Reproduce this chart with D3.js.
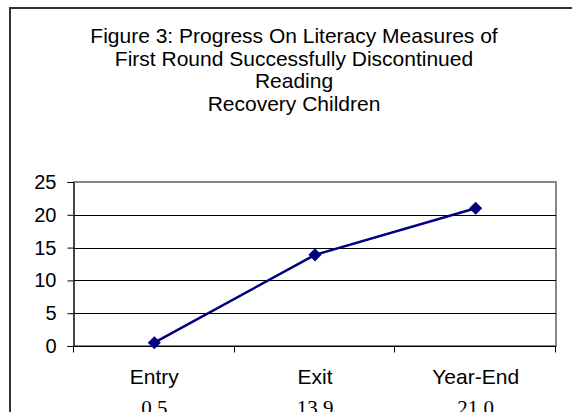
<!DOCTYPE html>
<html>
<head>
<meta charset="utf-8">
<script src="https://cdn.jsdelivr.net/npm/d3@7"></script>
<style>
  body { margin: 0; background: #fff; }
  text { font-family: "Liberation Sans", Arial, sans-serif; fill: #000; }
</style>
</head>
<body>
<script>
// chart data
var categories = ["Entry", "Exit", "Year-End"];
var scores = [0.5, 13.9, 21.0];
var scoreLabels = ["0.5", "13.9", "21.0"];
var yTicks = [0, 5, 10, 15, 20, 25];
var titleLines = [
  "Figure 3: Progress On Literacy Measures of",
  "First Round Successfully Discontinued",
  "Reading",
  "Recovery Children"
];

var width = 572, height = 412;

var svg = d3.select("body")
            .append("svg")
            .attr("width", width)
            .attr("height", height);

// outer chart frame (runs off the right and bottom edges)
svg.append("rect")
   .attr("x", 10)
   .attr("y", 8)
   .attr("width", 600)
   .attr("height", 500)
   .attr("fill", "none")
   .attr("stroke", "#333")
   .attr("stroke-width", 2);

// title
svg.append("g")
   .selectAll("text")
   .data(titleLines)
   .enter().append("text")
   .attr("x", 294)
   .attr("y", function(d, i) { return 43 + i * 22.5; })
   .attr("text-anchor", "middle")
   .style("font-size", "21px")
   .text(function(d) { return d; });

var plot = { left: 74, top: 182, right: 556, bottom: 346 };

var x = d3.scaleBand()
          .domain(categories)
          .range([plot.left, plot.right]);

var y = d3.scaleLinear()
          .domain([0, 25])
          .range([plot.bottom, plot.top]);

// plot area border (gray)
svg.append("rect")
   .attr("x", plot.left)
   .attr("y", plot.top)
   .attr("width", plot.right - plot.left)
   .attr("height", plot.bottom - plot.top)
   .attr("fill", "none")
   .attr("stroke", "#888")
   .attr("stroke-width", 2);

// gridlines
svg.append("g")
   .selectAll("line")
   .data(yTicks.filter(function(d) { return d > 0 && d < 25; }))
   .enter().append("line")
   .attr("x1", plot.left)
   .attr("x2", plot.right)
   .attr("y1", function(d) { return Math.round(y(d)) + 0.5; })
   .attr("y2", function(d) { return Math.round(y(d)) + 0.5; })
   .attr("stroke", "#000")
   .attr("stroke-width", 1);

// y axis
var yAxis = svg.append("g")
   .attr("transform", "translate(" + (plot.left - 0.5) + ",0)")
   .call(d3.axisLeft(y).tickValues(yTicks).tickSize(6).tickPadding(11).tickFormat(d3.format("d")));
yAxis.select(".domain").attr("stroke", "#000");
yAxis.selectAll("text").style("font-size", "20px").attr("font-family", null);

// x axis: ticks at category boundaries
var xAxisY = plot.bottom + 0.5;
svg.append("line")
   .attr("x1", plot.left)
   .attr("x2", plot.right)
   .attr("y1", xAxisY)
   .attr("y2", xAxisY)
   .attr("stroke", "#000");

var bounds = categories.map(function(c) { return x(c); }).concat([x(categories[categories.length - 1]) + x.bandwidth()]);
svg.append("g")
   .selectAll("line")
   .data(bounds)
   .enter().append("line")
   .attr("x1", function(d) { return Math.round(d) - 0.5; })
   .attr("x2", function(d) { return Math.round(d) - 0.5; })
   .attr("y1", xAxisY)
   .attr("y2", xAxisY + 6)
   .attr("stroke", "#000");

// category labels
svg.append("g")
   .selectAll("text")
   .data(categories)
   .enter().append("text")
   .attr("x", function(d) { return x(d) + x.bandwidth() / 2; })
   .attr("y", 384)
   .attr("text-anchor", "middle")
   .style("font-size", "21px")
   .text(function(d) { return d; });

// data table row under the axis (cut off by the bottom edge, as in the original)
svg.append("g")
   .selectAll("text")
   .data(scoreLabels)
   .enter().append("text")
   .attr("x", function(d, i) { return x(categories[i]) + x.bandwidth() / 2; })
   .attr("y", 415)
   .attr("text-anchor", "middle")
   .style("font-family", "'Liberation Serif', 'Times New Roman', serif")
   .style("font-size", "21px")
   .text(function(d) { return d; });

// line + markers
var line = d3.line()
             .x(function(d, i) { return x(categories[i]) + x.bandwidth() / 2; })
             .y(function(d) { return y(d); });

svg.append("path")
   .datum(scores)
   .attr("d", line)
   .attr("fill", "none")
   .attr("stroke", "#000080")
   .attr("stroke-width", 2.5);

svg.append("g")
   .selectAll("path")
   .data(scores)
   .enter().append("path")
   .attr("d", d3.symbol().type(d3.symbolDiamond2).size(110))
   .attr("transform", function(d, i) {
       return "translate(" + (x(categories[i]) + x.bandwidth() / 2) + "," + y(d) + ")";
   })
   .attr("fill", "#000080");
</script>
</body>
</html>
